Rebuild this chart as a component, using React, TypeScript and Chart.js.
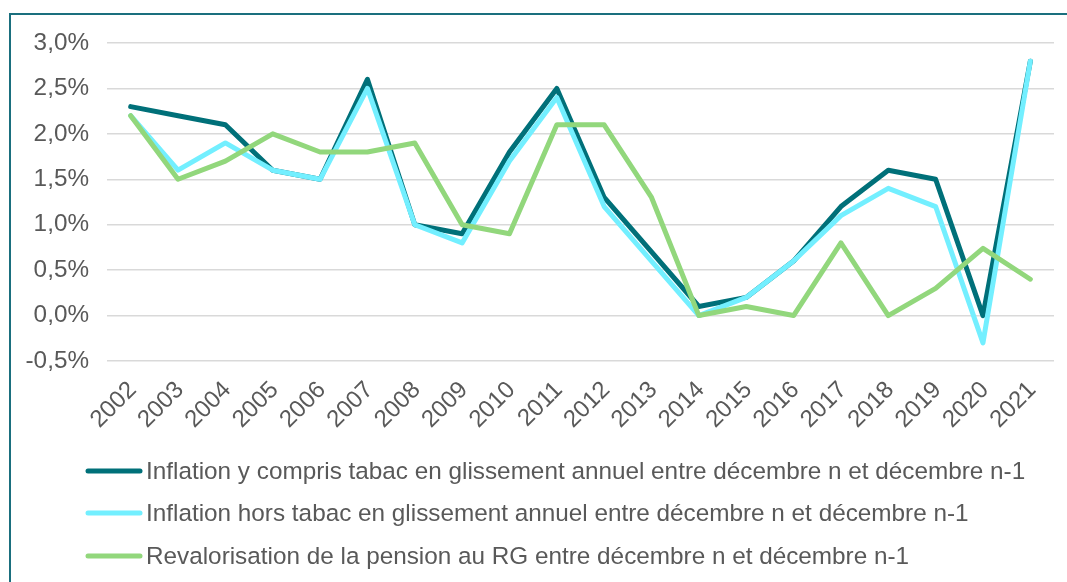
import React, { useEffect, useRef } from "react";
import { Chart, registerables } from "chart.js";

Chart.register(...registerables);

const years = ["2002", "2003", "2004", "2005", "2006", "2007", "2008", "2009", "2010", "2011", "2012", "2013", "2014", "2015", "2016", "2017", "2018", "2019", "2020", "2021"];
const inflationTabac = [2.3, 2.2, 2.1, 1.6, 1.5, 2.6, 1.0, 0.9, 1.8, 2.5, 1.3, 0.7, 0.1, 0.2, 0.6, 1.2, 1.6, 1.5, 0.0, 2.8];
const inflationHorsTabac = [2.2, 1.6, 1.9, 1.6, 1.5, 2.5, 1.0, 0.8, 1.7, 2.4, 1.2, 0.6, 0.0, 0.2, 0.6, 1.1, 1.4, 1.2, -0.3, 2.8];
const revalorisation = [2.2, 1.5, 1.7, 2.0, 1.8, 1.8, 1.9, 1.0, 0.9, 2.1, 2.1, 1.3, 0.0, 0.1, 0.0, 0.8, 0.0, 0.3, 0.74, 0.4];
const seriesLabels = [
  "Inflation y compris tabac en glissement annuel entre décembre n et décembre n-1",
  "Inflation hors tabac en glissement annuel entre décembre n et décembre n-1",
  "Revalorisation de la pension au RG entre décembre n et décembre n-1",
];
const yMin = -0.5;
const yMax = 3.0;
const yStep = 0.5;

const COLORS = ["#007079", "#73EFFF", "#92D77C"];
const FONT = "'Liberation Sans', Arial, sans-serif";
const TEXT = "#595959";
const FS = 24;

const legendPlugin = {
  id: "customLegend",
  afterDraw(chart: any) {
    const ctx = chart.ctx;
    const base = chart.chartArea.bottom;
    const offsets = [110, 152, 195];
    ctx.save();
    chart.data.datasets.forEach((ds: any, i: number) => {
      const y = base + offsets[i];
      ctx.beginPath();
      ctx.strokeStyle = ds.borderColor;
      ctx.lineWidth = 5;
      ctx.lineCap = "round";
      ctx.moveTo(77, y);
      ctx.lineTo(129, y);
      ctx.stroke();
      ctx.fillStyle = TEXT;
      ctx.font = `24.3px ${FONT}`;
      ctx.textBaseline = "middle";
      ctx.textAlign = "left";
      ctx.fillText(ds.label, 135, y + 1);
    });
    ctx.restore();
  },
};

export default function App() {
  const ref = useRef<HTMLCanvasElement>(null);
  useEffect(() => {
    if (!ref.current) return;
    const mk = (label: string, data: number[], color: string, order: number) => ({
      label,
      data,
      borderColor: color,
      backgroundColor: color,
      borderWidth: 5,
      pointRadius: 0,
      tension: 0,
      borderCapStyle: "round" as const,
      borderJoinStyle: "round" as const,
      fill: false,
      order,
    });
    const chart = new Chart(ref.current, {
      type: "line",
      data: {
        labels: years,
        datasets: [
          mk(seriesLabels[0], inflationTabac, COLORS[0], 3),
          mk(seriesLabels[1], inflationHorsTabac, COLORS[1], 2),
          mk(seriesLabels[2], revalorisation, COLORS[2], 1),
        ],
      },
      options: {
        animation: false,
        responsive: false,
        maintainAspectRatio: false,
        layout: { padding: { left: 0, top: 28, right: 17, bottom: 134 } },
        plugins: { legend: { display: false }, tooltip: { enabled: false } },
        scales: {
          x: {
            offset: true,
            grid: { display: false, drawTicks: false },
            border: { display: false },
            ticks: {
              color: TEXT,
              font: { family: FONT, size: FS },
              maxRotation: 45,
              minRotation: 45,
              autoSkip: false,
              padding: 15,
              labelOffset: 2,
            },
            afterFit: (s: any) => {
              s.height = 90;
              s.paddingTop = 0;
              s.paddingBottom = 0;
            },
          },
          y: {
            min: yMin,
            max: yMax,
            grid: { color: "#D9D9D9", lineWidth: 1.5, drawTicks: false },
            border: { display: false },
            ticks: {
              stepSize: yStep,
              color: TEXT,
              font: { family: FONT, size: 24.3 },
              padding: 18,
              callback: (v: any) => Number(v).toFixed(1).replace(".", ",") + "%",
            },
            afterFit: (s: any) => {
              s.width = 96;
              s.paddingTop = 0;
              s.paddingBottom = 0;
            },
          },
        },
      },
      plugins: [legendPlugin],
    });
    return () => chart.destroy();
  }, []);
  return (
    <div
      style={{
        position: "fixed",
        left: 9,
        top: 13,
        width: 1100,
        height: 620,
        border: "2px solid #1A6F7E",
        overflow: "hidden",
        background: "#fff",
      }}
    >
      <canvas ref={ref} width={1060} height={570} style={{ display: "block" }} />
    </div>
  );
}
